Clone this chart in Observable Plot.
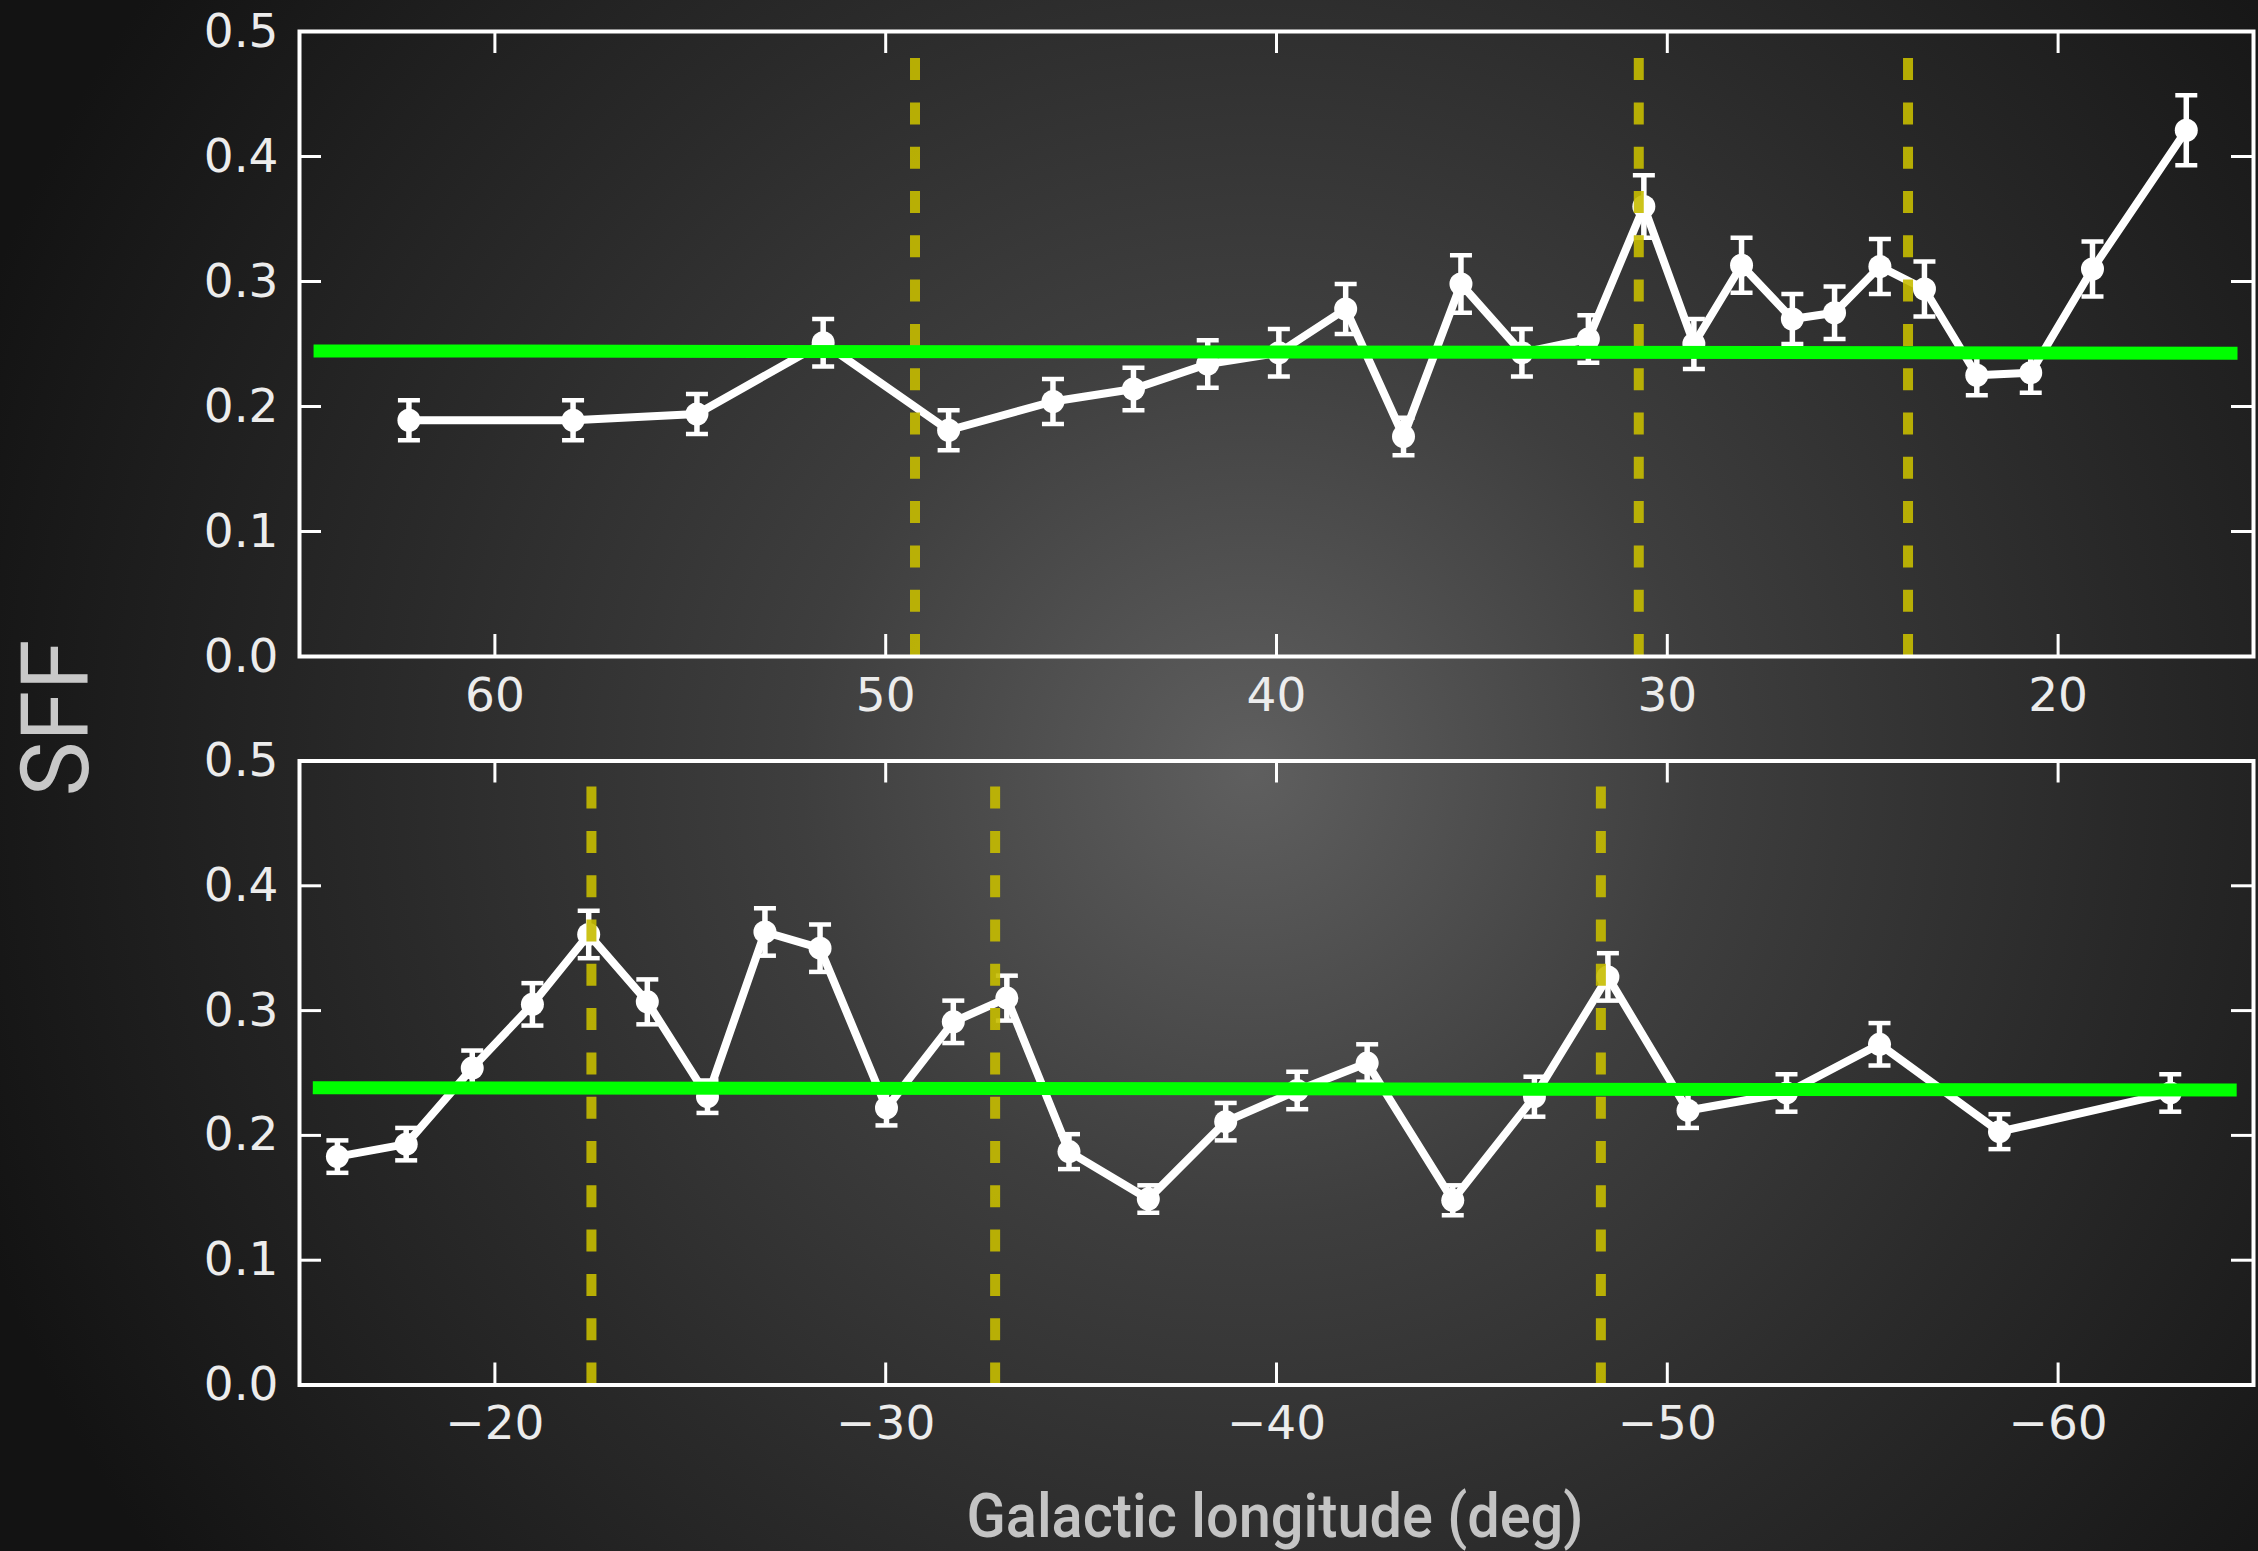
<!DOCTYPE html>
<html>
<head>
<meta charset="utf-8">
<script src="https://cdn.jsdelivr.net/npm/d3@7"></script>
<script src="https://cdn.jsdelivr.net/npm/@observablehq/plot@0.6"></script>
<style>
  html, body { margin: 0; padding: 0; width: 2258px; height: 1551px; overflow: hidden; }
  body {
    background: radial-gradient(circle at 1250px 770px, #5f5f5f 0px, #3e3e3e 450px, #2a2a2a 850px, #131313 1350px);
    position: relative;
  }
  .panel { position: absolute; left: 0; }
  .panel svg { background: transparent !important; max-width: none !important; }
  #labels { position: absolute; left: 0; top: 0; pointer-events: none; }
</style>
</head>
<body>
<div id="top" class="panel" style="top:0px"></div>
<div id="bottom" class="panel" style="top:730px"></div>
<svg id="labels" width="2258" height="1551"></svg>
<script>
// ---------- data ----------
// Upper panel: first Galactic quadrant
const topLon = [62.2, 58.0, 54.83, 51.6, 48.39, 45.72, 43.66, 41.76, 39.94, 38.23, 36.75, 35.28, 33.72, 32.02, 30.6, 29.32, 28.1, 26.8, 25.72, 24.56, 23.42, 22.08, 20.7, 19.12, 16.72];
const topSFF = [0.189, 0.189, 0.194, 0.251, 0.181, 0.204, 0.214, 0.234, 0.243, 0.278, 0.176, 0.298, 0.243, 0.254, 0.36, 0.25, 0.313, 0.270, 0.275, 0.312, 0.294, 0.225, 0.227, 0.310, 0.421];
const topErr = [0.016, 0.016, 0.016, 0.019, 0.016, 0.018, 0.017, 0.019, 0.019, 0.02, 0.015, 0.023, 0.019, 0.019, 0.025, 0.02, 0.022, 0.02, 0.021, 0.022, 0.022, 0.016, 0.016, 0.022, 0.028];
const topFitLon = [64.64, 15.41];
const topFitSFF = [0.2445, 0.2427];
const topArms = [49.25, 30.73, 23.84];
const topTicks = [60, 50, 40, 30, 20];

// Lower panel: fourth Galactic quadrant
const botLon = [-15.97, -17.73, -19.42, -20.96, -22.4, -23.9, -25.44, -26.91, -28.32, -30.02, -31.73, -33.1, -34.69, -36.72, -38.7, -40.53, -42.32, -44.51, -46.6, -48.48, -50.53, -53.05, -55.43, -58.5, -62.87];
const botSFF = [0.183, 0.193, 0.254, 0.305, 0.361, 0.307, 0.231, 0.363, 0.350, 0.222, 0.291, 0.310, 0.187, 0.149, 0.211, 0.236, 0.258, 0.148, 0.231, 0.327, 0.220, 0.234, 0.273, 0.203, 0.234];
const botErr = [0.013, 0.013, 0.014, 0.017, 0.019, 0.018, 0.013, 0.019, 0.019, 0.014, 0.017, 0.018, 0.014, 0.011, 0.015, 0.015, 0.015, 0.012, 0.016, 0.019, 0.014, 0.015, 0.017, 0.014, 0.015];
const botFitLon = [-15.34, -64.57];
const botFitSFF = [0.2382, 0.2364];
const botArms = [-22.47, -32.8, -48.3];
const botTicks = [-20, -30, -40, -50, -60];

const yTicks = [0, 0.1, 0.2, 0.3, 0.4, 0.5];
const yLabel = "SFF";
const xLabel = "Galactic longitude (deg)";

// ---------- drawing ----------
const W = 2258, ML = 299, MR = 5;
const plotW = W - ML - MR;
const TICK = 22;

const capSymbol = {
  draw(context, size) {
    const w = Math.sqrt(size / Math.PI);
    context.moveTo(-w, 0);
    context.lineTo(w, 0);
  }
};

function panel({lon, sff, err, fitLon, fitSFF, arms, ticks, domain, height, marginTop, marginBottom}) {
  const data = lon.map((x, i) => ({x, y: sff[i], e: err[i]}));
  const fit = fitLon.map((x, i) => ({x, y: fitSFF[i]}));
  const plotH = height - marginTop - marginBottom;
  return Plot.plot({
    width: W, height, marginLeft: ML, marginRight: MR, marginTop, marginBottom,
    style: {background: "transparent", color: "#ececec", fontFamily: "'DejaVu Sans', sans-serif", fontSize: "47px", overflow: "visible"},
    x: {domain, ticks, label: null},
    y: {domain: [0, 0.5], ticks: yTicks, label: null},
    marks: [
      Plot.line(data, {x: "x", y: "y", stroke: "white", strokeWidth: 8, strokeLinejoin: "round"}),
      Plot.ruleX(data, {x: "x", y1: d => d.y - d.e, y2: d => d.y + d.e, stroke: "white", strokeWidth: 5.5}),
      Plot.dot(data, {x: "x", y: d => d.y + d.e, symbol: capSymbol, r: 11, stroke: "white", strokeWidth: 4.5, fill: "none"}),
      Plot.dot(data, {x: "x", y: d => d.y - d.e, symbol: capSymbol, r: 11, stroke: "white", strokeWidth: 4.5, fill: "none"}),
      Plot.dot(data, {x: "x", y: "y", r: 11.5, fill: "white", stroke: "none"}),
      Plot.ruleX(arms, {x: d => d, y1: 0, y2: 0.48, stroke: "#c6bd00", strokeOpacity: 0.9, strokeWidth: 10, strokeDasharray: "22,22.3"}),
      Plot.line(fit, {x: "x", y: "y", stroke: "#00ff00", strokeWidth: 13, strokeLinecap: "butt"}),
      // inward ticks on all four sides
      Plot.tickX(ticks, {x: d => d, stroke: "white", strokeWidth: 3, insetTop: plotH - TICK}),
      Plot.tickX(ticks, {x: d => d, stroke: "white", strokeWidth: 3, insetBottom: plotH - TICK}),
      Plot.tickY(yTicks, {y: d => d, stroke: "white", strokeWidth: 3, insetRight: plotW - TICK}),
      Plot.tickY(yTicks, {y: d => d, stroke: "white", strokeWidth: 3, insetLeft: plotW - TICK}),
      Plot.frame({stroke: "white", strokeWidth: 4}),
      Plot.axisX({ticks, tickSize: 0, tickPadding: 21, tickFormat: d3.format("d"), label: null}),
      Plot.axisY({ticks: yTicks, tickSize: 0, tickPadding: 21, tickFormat: d3.format(".1f"), label: null})
    ]
  });
}

document.getElementById("top").append(panel({
  lon: topLon, sff: topSFF, err: topErr, fitLon: topFitLon, fitSFF: topFitSFF,
  arms: topArms, ticks: topTicks, domain: [65, 15],
  height: 730, marginTop: 31, marginBottom: 74
}));
document.getElementById("bottom").append(panel({
  lon: botLon, sff: botSFF, err: botErr, fitLon: botFitLon, fitSFF: botFitSFF,
  arms: botArms, ticks: botTicks, domain: [-15, -65],
  height: 760, marginTop: 30.5, marginBottom: 105.5
}));

// axis titles
const labels = d3.select("#labels");
labels.append("text")
  .attr("x", 1275).attr("y", 1537)
  .attr("text-anchor", "middle")
  .attr("fill", "#c4c4c4")
  .attr("font-family", "Roboto, 'Open Sans', sans-serif")
  .attr("font-weight", 500)
  .attr("font-size", 61)
  .attr("textLength", 617).attr("lengthAdjust", "spacingAndGlyphs")
  .text(xLabel);
labels.append("text")
  .attr("transform", "translate(88,718) rotate(-90)")
  .attr("text-anchor", "middle")
  .attr("fill", "#c8c8c8")
  .attr("font-family", "Roboto, 'Open Sans', sans-serif")
  .attr("font-weight", 400)
  .attr("font-size", 95)
  .attr("textLength", 157).attr("lengthAdjust", "spacingAndGlyphs")
  .text(yLabel);
</script>
</body>
</html>
